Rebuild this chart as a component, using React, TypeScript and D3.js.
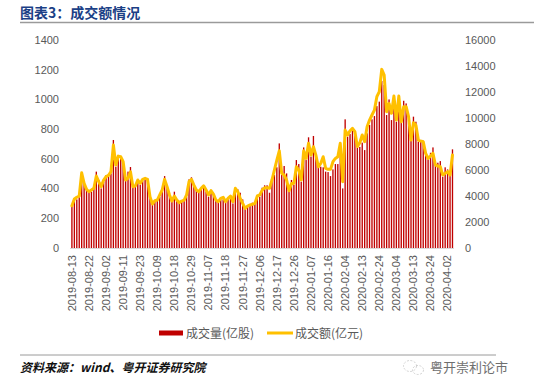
import React from "react";
import * as d3 from "d3";

// tick labels every 7 trading days, first bar = 2019-08-13
const tickLabels = [
  "2019-08-13", "2019-08-22", "2019-09-02", "2019-09-11", "2019-09-23",
  "2019-10-09", "2019-10-18", "2019-10-29", "2019-11-07", "2019-11-18",
  "2019-11-27", "2019-12-06", "2019-12-17", "2019-12-26", "2020-01-07",
  "2020-01-16", "2020-02-04", "2020-02-13", "2020-02-24", "2020-03-04",
  "2020-03-13", "2020-03-24", "2020-04-02",
];
const tickStep = 7;

// 成交量 (亿股)
const volume = [
  283, 323, 327, 341, 491, 446, 401, 379, 379, 401,
  514, 458, 401, 446, 491, 498, 502, 727, 547, 615,
  603, 581, 458, 514, 545, 413, 424, 446, 424, 451,
  469, 469, 334, 289, 312, 316, 345, 379, 484, 401,
  357, 312, 379, 323, 300, 312, 327, 345, 462, 476,
  413, 390, 379, 390, 413, 379, 345, 390, 357, 323,
  312, 327, 327, 305, 334, 339, 300, 395, 395, 372,
  327, 267, 283, 289, 305, 300, 341, 345, 406, 422,
  422, 372, 453, 491, 543, 704, 491, 552, 502, 379,
  458, 424, 592, 565, 446, 677, 592, 745, 615, 754,
  626, 543, 547, 543, 514, 511, 484, 529, 565, 565,
  704, 401, 866, 749, 767, 790, 767, 675, 680, 709,
  659, 772, 828, 866, 888, 955, 985, 1125, 1097, 895,
  1000, 861, 1030, 850, 1030, 857, 991, 973, 888, 727,
  884, 850, 716, 727, 722, 633, 597, 641, 677, 552,
  574, 585, 480, 543, 529, 491, 664,
];

// 成交额 (亿元)
const amount = [
  3250, 3770, 3900, 4000, 5780, 4970, 4510, 4330, 4460, 4590,
  5540, 5100, 4720, 5230, 5490, 5590, 5870, 7920, 6380, 7070,
  7020, 6640, 5230, 5360, 5870, 4720, 4770, 5230, 4970, 5280,
  5360, 5280, 3950, 3380, 3640, 3690, 4080, 4460, 5280, 4720,
  4080, 3610, 4000, 3690, 3490, 3610, 3690, 4080, 5100, 5280,
  4840, 4460, 4330, 4590, 4790, 4460, 4080, 4410, 4150, 3690,
  3560, 3820, 3900, 3560, 3820, 4000, 3560, 4590, 4330, 3820,
  3430, 3050, 3230, 3310, 3360, 3430, 4000, 4080, 4450, 4640,
  4640, 4590, 5230, 6000, 6770, 7480, 5740, 5610, 5230, 4410,
  4970, 4970, 6250, 6000, 5230, 7480, 6890, 8050, 7150, 7790,
  7150, 6250, 6510, 7020, 6130, 6050, 6050, 6640, 6890, 7020,
  8050, 5100, 9070, 8690, 9020, 9200, 8950, 7800, 8100, 8690,
  8180, 9330, 9840, 10230, 10610, 11640, 12020, 13740, 13300, 10480,
  11120, 10360, 11690, 9840, 11690, 9710, 10870, 10870, 10100, 8300,
  9640, 9460, 8300, 8230, 8180, 7280, 6890, 7070, 7280, 6380,
  6310, 6250, 5610, 5740, 5870, 5610, 7150,
];

const leftTicks = [0, 200, 400, 600, 800, 1000, 1200, 1400];
const rightTicks = [0, 2000, 4000, 6000, 8000, 10000, 12000, 14000, 16000];

const W = 539;
const H = 392;
const margin = { left: 71, right: 86, top: 40, bottom: 144 };
const font = "'Liberation Sans', Arial, 'Noto Sans CJK SC', sans-serif";
const cjk = "'Noto Sans CJK SC', 'Liberation Sans', sans-serif";

export default function App() {
  const x = d3
    .scaleBand<number>()
    .domain(d3.range(volume.length))
    .range([margin.left, W - margin.right + 0.4])
    .paddingInner(0.45)
    .paddingOuter(0.1);
  const yL = d3.scaleLinear().domain([0, 1400]).range([H - margin.bottom, margin.top]);
  const yR = d3.scaleLinear().domain([0, 16000]).range([H - margin.bottom, margin.top]);
  const cx = (i: number) => (x(i) as number) + x.bandwidth() / 2;

  const line = d3
    .line<number>()
    .x((d, i) => cx(i))
    .y((d) => yR(d));

  const base = yL(0);

  return (
    <svg
      width={W}
      height={H}
      style={{ position: "absolute", left: 0, top: 0, background: "#fff" }}
    >
      {/* header */}
      <text x={20} y={18} fontFamily={cjk} fontSize={14} fontWeight="bold" fill="#1B3F86">
        图表3：成交额情况
      </text>
      <line x1={20} x2={534} y1={22.5} y2={22.5} stroke="#9a9a9a" strokeWidth={1.3} />

      {/* left axis labels */}
      {leftTicks.map((t) => (
        <text
          key={"l" + t}
          x={59}
          y={yL(t)}
          dy="0.35em"
          textAnchor="end"
          fontFamily={font}
          fontSize={11}
          fill="#595959"
        >
          {t}
        </text>
      ))}
      {/* right axis labels */}
      {rightTicks.map((t) => (
        <text
          key={"r" + t}
          x={465}
          y={yR(t)}
          dy="0.35em"
          textAnchor="start"
          fontFamily={font}
          fontSize={11}
          fill="#595959"
        >
          {t}
        </text>
      ))}

      {/* bars */}
      <g>
        {volume.map((v, i) => (
          <rect
            key={i}
            x={x(i)}
            y={yL(v)}
            width={x.bandwidth()}
            height={base - yL(v)}
            fill="#C00000"
          />
        ))}
      </g>

      {/* x axis */}
      <line x1={margin.left - 1} x2={W - margin.right + 1} y1={base + 0.5} y2={base + 0.5} stroke="#d9d9d9" strokeWidth={1} />

      {/* amount line */}
      <path
        d={line(amount) || ""}
        fill="none"
        stroke="#FFC000"
        strokeWidth={3}
        strokeLinejoin="round"
        strokeLinecap="round"
      />

      {/* x tick labels */}
      {tickLabels.map((lab, k) => {
        const px = cx(k * tickStep);
        const py = base + 7;
        return (
          <text
            key={lab}
            transform={`translate(${px},${py}) rotate(-90)`}
            dy="0.35em"
            textAnchor="end"
            fontFamily={font}
            fontSize={11}
            fill="#595959"
          >
            {lab}
          </text>
        );
      })}

      {/* legend */}
      <rect x={159} y={330.5} width={24} height={5} fill="#C00000" />
      <text x={186} y={337.5} fontFamily={cjk} fontSize={12} fill="#595959">
        成交量(亿股)
      </text>
      <line x1={267} x2={293} y1={333} y2={333} stroke="#FFC000" strokeWidth={3} />
      <text x={295} y={337.5} fontFamily={cjk} fontSize={12} fill="#595959">
        成交额(亿元)
      </text>

      {/* footer */}
      <line x1={20} x2={496} y1={355} y2={355} stroke="#9a9a9a" strokeWidth={1} />
      <text
        x={20}
        y={372}
        fontFamily={cjk}
        fontSize={12}
        fontStyle="italic"
        fontWeight="bold"
        fill="#111"
      >
        资料来源：wind、粤开证券研究院
      </text>
      <g stroke="#c8c8c8" fill="none" strokeWidth={0.8}>
        <ellipse cx={410} cy={366} rx={6.5} ry={5.5} strokeDasharray="2 1.5" />
        <ellipse cx={418} cy={370} rx={5.5} ry={4.5} strokeDasharray="2 1.5" />
      </g>
      <text x={430} y={372} fontFamily={cjk} fontSize={13} fill="#6e6e6e">
        粤开崇利论市
      </text>
    </svg>
  );
}
